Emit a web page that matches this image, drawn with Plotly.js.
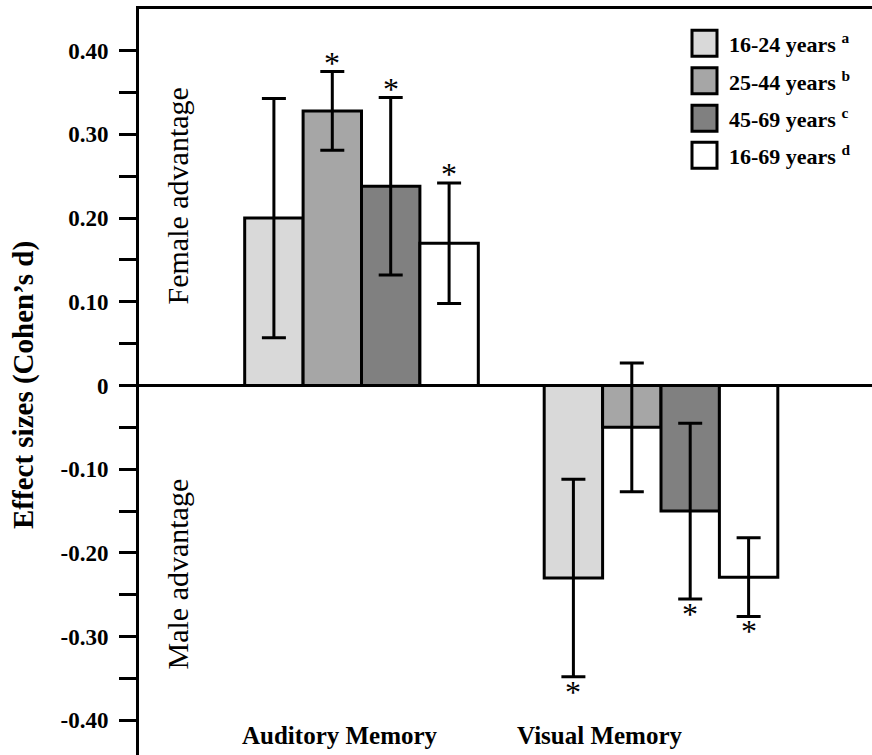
<!DOCTYPE html>
<html>
<head>
<meta charset="utf-8">
<script src="https://cdn.plot.ly/plotly-3.0.1.min.js"></script>
<style>html,body{margin:0;padding:0;background:#fff}#chart{width:872px;height:755px}</style>
</head>
<body>
<div id="chart"></div>
<script>
// ---- data ----
const categories = ["Auditory Memory", "Visual Memory"];
const seriesNames = ["16-24 years", "25-44 years", "45-69 years", "16-69 years"];
const seriesSup = ["a", "b", "c", "d"];
const values_16_24 = [0.20, -0.23];
const values_25_44 = [0.328, -0.05];
const values_45_69 = [0.238, -0.15];
const values_16_69 = [0.17, -0.229];
const err_16_24 = [0.143, 0.118];
const err_25_44 = [0.047, 0.077];
const err_45_69 = [0.106, 0.105];
const err_16_69 = [0.072, 0.047];
const sig_16_24 = [false, true];
const sig_25_44 = [true, false];
const sig_45_69 = [true, true];
const sig_16_69 = [true, true];
const yTickVals = [0.4, 0.3, 0.2, 0.1, 0, -0.1, -0.2, -0.3, -0.4];
const yTickText = ["0.40", "0.30", "0.20", "0.10", "0", "-0.10", "-0.20", "-0.30", "-0.40"];

// ---- styling ----
const colors = ["#d9d9d9", "#a6a6a6", "#808080", "#ffffff"];
const values = [values_16_24, values_25_44, values_45_69, values_16_69];
const errs = [err_16_24, err_25_44, err_45_69, err_16_69];
const sigs = [sig_16_24, sig_25_44, sig_45_69, sig_16_69];
const FONT = "Liberation Serif";
const W = 0.195; // bar width in category units
const L = 139, T = 9, PW = 733, PH = 746;
const px2x = p => (p - L) / PW;
const py2y = p => (T + PH - p) / PH;
const bold = s => "<b>" + s + "</b>";

const traces = [];
values.forEach((vals, i) => {
  const xs = categories.map((c, k) => k + (i - 1.5) * W);
  traces.push({
    type: "bar", x: xs, y: vals, width: W, name: seriesNames[i],
    marker: {color: colors[i], line: {color: "#000", width: 3}},
    error_y: {type: "data", array: errs[i], visible: true, color: "#000", thickness: 3, width: 12},
    showlegend: false, hoverinfo: "skip"
  });
});

const shapes = [];
const annotations = [];
// significance stars at error-bar ends
values.forEach((vals, i) => {
  vals.forEach((v, k) => {
    if (!sigs[i][k]) return;
    const up = v >= 0;
    annotations.push({xref: "x", yref: "y", x: k + (i - 1.5) * W,
      y: up ? v + errs[i][k] : v - errs[i][k],
      xanchor: "center", yanchor: "middle", yshift: up ? 9 : -15, showarrow: false,
      text: "*", font: {family: FONT, size: 32, color: "#000"}});
  });
});
const legY = [43.3, 80.8, 118.3, 155.3];
seriesNames.forEach((n, i) => {
  shapes.push({type: "rect", xref: "paper", yref: "paper",
    x0: px2x(692), x1: px2x(717), y0: py2y(legY[i] + 13), y1: py2y(legY[i] - 13),
    fillcolor: colors[i], line: {color: "#000", width: 3}});
  annotations.push({xref: "paper", yref: "paper", x: px2x(727), y: py2y(legY[i]),
    xanchor: "left", yanchor: "middle", showarrow: false,
    text: bold(n + " <sup>" + seriesSup[i] + "</sup>"),
    font: {family: FONT, size: 22, color: "#000"}});
});
const catLabelX = [340, 600];
categories.forEach((c, k) => {
  annotations.push({xref: "paper", yref: "paper", x: px2x(catLabelX[k]), y: py2y(735),
    xanchor: "center", yanchor: "middle", showarrow: false, text: bold(c),
    font: {family: FONT, size: 25, color: "#000"}});
});
annotations.push({xref: "paper", yref: "paper", x: px2x(23), y: py2y(385), textangle: -90,
  xanchor: "center", yanchor: "middle", showarrow: false, text: bold("Effect sizes (Cohen’s d)"),
  font: {family: FONT, size: 29, color: "#000"}});
annotations.push({xref: "paper", yref: "paper", x: px2x(177), y: py2y(196.5), textangle: -90,
  xanchor: "center", yanchor: "middle", showarrow: false, text: "Female advantage",
  font: {family: FONT, size: 30, color: "#000"}});
annotations.push({xref: "paper", yref: "paper", x: px2x(177), y: py2y(574.5), textangle: -90,
  xanchor: "center", yanchor: "middle", showarrow: false, text: "Male advantage",
  font: {family: FONT, size: 30, color: "#000"}});

const layout = {
  width: 872, height: 755,
  margin: {l: L, r: 0, t: T, b: 0, pad: 0},
  paper_bgcolor: "#fff", plot_bgcolor: "#fff",
  barmode: "overlay",
  showlegend: false,
  xaxis: {range: [-0.7429, 1.7045], side: "top", showline: true, linecolor: "#000", linewidth: 3,
    showticklabels: false, ticks: "", showgrid: false, zeroline: false, fixedrange: true},
  yaxis: {range: [-0.4415, 0.4498], tickmode: "array", tickvals: yTickVals, ticktext: yTickText.map(bold),
    ticks: "outside", ticklen: 17, tickwidth: 3, tickcolor: "#000", ticklabelstandoff: 6,
    showline: true, linecolor: "#000", linewidth: 3, showgrid: false,
    zeroline: true, zerolinecolor: "#000", zerolinewidth: 3,
    tickfont: {family: FONT, size: 23, color: "#000"},
    minor: {tickmode: "linear", tick0: 0.05, dtick: 0.1, ticks: "outside", ticklen: 17, tickwidth: 3, tickcolor: "#000", showgrid: false},
    fixedrange: true},
  shapes: shapes,
  annotations: annotations,
  font: {family: FONT, color: "#000"}
};
Plotly.newPlot("chart", traces, layout, {displayModeBar: false, staticPlot: true});
</script>
</body>
</html>
